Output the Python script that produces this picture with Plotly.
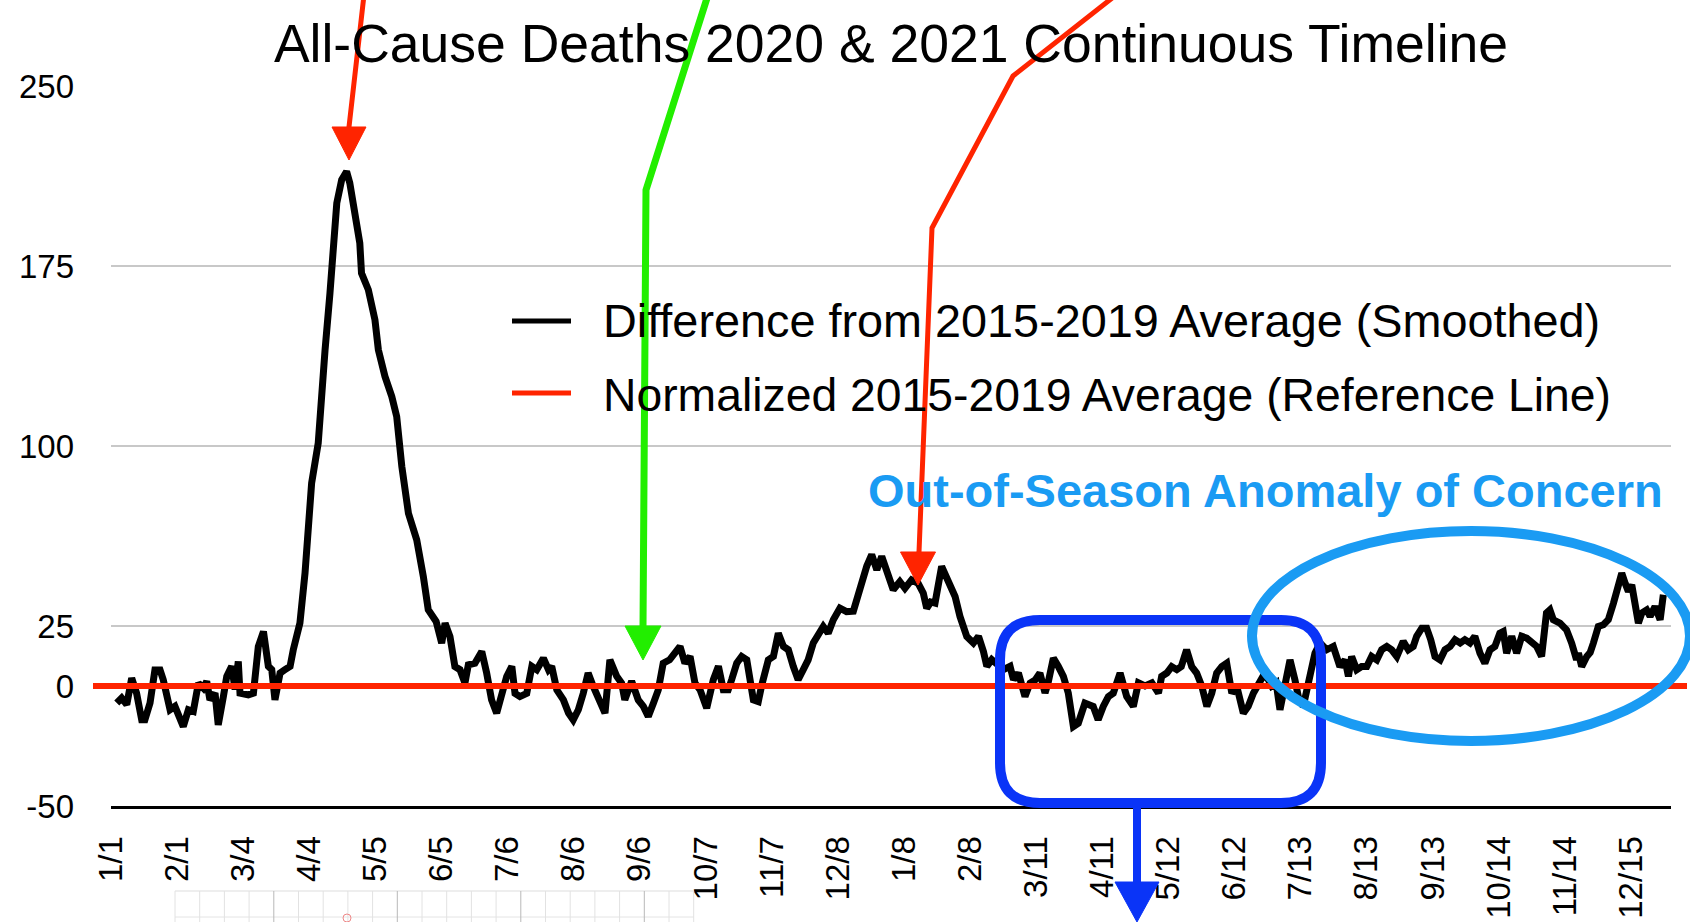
import plotly.graph_objects as go

# ---------------- data ----------------
# day index counted from 1 Jan 2020 (365-day years), value = difference from 2015-2019 average
days = [
    2.7, 5.0, 7.4, 9.7, 12.0, 14.4, 15.9, 18.3, 20.6, 23.0, 24.5, 27.7, 30.0, 31.6, 33.9, 36.3, 38.6,
    41.0, 43.3, 44.9, 46.4, 48.8, 50.3, 52.7, 54.3, 56.6, 58.2, 59.7, 60.5, 64.4, 66.8, 69.1, 71.5,
    73.8, 75.4, 76.9, 79.3, 81.6, 84.0, 85.5, 87.9,
    88.6, 91.0, 94.1, 97.2, 98.8, 100.4, 102.7, 104.3, 105.9, 108.2, 110.5, 112.0, 114.4, 116.7,
    117.5, 120.7, 123.8, 125.4, 128.5, 131.7, 134.0, 136.4, 139.5, 143.4, 146.5, 148.8,
    152.5, 155.1, 156.7, 159.0, 161.3, 163.7, 166.0, 167.6, 170.7, 173.9, 176.2, 178.5, 180.9,
    183.2, 185.6, 188.0, 189.5, 191.8, 195.0, 197.4, 199.7, 202.8, 205.2, 206.7, 209.1, 212.2,
    214.6, 216.8, 219.2, 221.5, 223.8, 226.2, 229.4, 231.7, 234.0, 237.2,
    239.5, 241.0, 244.2, 247.3, 249.7, 252.0, 254.4, 256.7, 259.0, 262.0, 266.9, 269.2, 271.6,
    273.9, 276.3, 279.4, 282.5, 284.9, 287.2, 289.5, 291.1, 293.5, 295.8, 298.2, 301.3, 303.6,
    305.2, 308.3, 310.7, 313.0, 315.4, 317.7, 320.0, 322.3, 324.7, 327.0, 329.4, 331.7, 334.1,
    336.4, 338.8, 341.9, 345.0, 348.2,
    350.5, 352.0, 354.5, 356.8, 359.2, 361.5, 363.8, 366.9, 370.0, 372.4, 375.5, 378.6, 381.0,
    382.6, 384.5, 386.5, 389.6, 392.0, 395.9, 398.2, 401.4, 404.5, 406.9, 409.2, 410.8, 413.1,
    416.2, 418.6, 421.7, 423.3, 425.6, 428.7, 431.1, 433.5, 435.7, 438.1, 439.5, 442.0, 444.3,
    446.7, 449.0, 451.4, 453.7, 456.8, 460.7,
    463.0, 465.4, 467.8, 470.1, 473.3, 476.4, 479.5, 481.9, 485.0, 488.2, 491.3, 492.8, 495.2,
    497.5, 499.9, 502.0, 504.5, 506.9, 509.2, 511.6, 514.0, 516.3, 518.6, 521.0, 523.3, 525.7,
    528.0, 531.1, 533.4, 535.8, 538.9, 541.2, 544.4, 546.5, 548.3, 550.6, 553.0, 555.3, 556.9,
    559.2, 561.6, 564.7, 567.1, 570.2, 573.3,
    576.4, 578.8, 580.4, 581.9, 584.3, 586.6, 589.0, 591.3, 593.7, 596.0, 598.4, 600.7, 603.1,
    606.1, 608.5, 610.8, 612.4, 614.8, 617.1, 619.0, 621.0, 623.4, 625.7, 628.1, 630.4, 632.8,
    635.0, 637.4, 639.7, 642.1, 644.4, 646.8, 649.1, 651.4, 653.0, 654.6, 657.0, 659.3, 661.7,
    664.0, 666.4, 668.7, 671.0, 673.3, 674.9, 676.5, 679.6, 682.7, 685.1, 687.4,
    688.3, 689.8, 692.2, 693.8, 695.3, 697.6, 700.0, 702.3, 704.7, 707.0, 708.6, 710.2, 711.7,
    713.3, 714.9, 716.4, 718.0, 720.3, 721.9, 724.2, 726.6, 728.1,
]
values = [
    -7.1, -5.0, -7.8, 3.3, -3.0, -14.1, -14.1, -7.1, 6.7, 6.7, 2.6, -9.9, -8.5, -12.7, -16.9, -9.9, -10.6,
    1.2, -0.9, 1.9, -5.8, -3.0, -16.2, -4.4, 4.0, 8.2, -1.5, 10.2, -3.0, -3.7, -3.0, 16.5, 22.7,
    8.2, 6.8, -5.8, 5.4, 6.8, 8.2, 15.1, 22.0,
    26.2, 47.0, 84.5, 101.2, 123.4, 140.0, 163.7, 181.7, 201.2, 210.9, 214.4, 209.6, 195.6, 184.5,
    172.0, 165.1, 152.6, 140.1, 129.0, 120.6, 112.3, 91.5, 72.0, 60.9, 45.6, 31.8,
    26.9, 17.9, 26.2, 20.6, 8.1, 6.8, 1.2, 8.8, 9.5, 14.4, 5.4, -5.8, -11.3,
    -3.1, 4.0, 8.2, -3.1, -4.4, -3.1, 8.2, 6.8, 11.6, 6.8, 8.2, -1.6, -5.8,
    -11.3, -14.1, -9.9, -3.1, 5.4, -0.2, -5.8, -11.3, 10.9, 4.0,
    1.2, -5.8, 2.0, -5.8, -8.5, -12.7, -7.2, -1.6, 9.5, 10.9, 16.5, 9.5, 12.3,
    1.2, -1.6, -9.2, 2.6, 8.2, -1.6, -1.6, 2.6, 9.5, 12.3, 10.9, -5.8, -6.5,
    0.3, 10.9, 12.3, 22.0, 16.5, 15.1, 8.2, 2.6, 6.8, 10.9, 17.9, 20.7, 24.8,
    22.0, 27.6, 32.4, 31.0, 31.2,
    38.0, 44.3, 50.0, 54.7, 48.4, 54.0, 47.0, 40.1, 43.5, 40.7, 44.2, 42.8, 38.7,
    32.4, 35.0, 34.5, 49.8, 45.6, 37.3, 29.0, 20.6, 17.9, 20.7, 14.4, 8.2, 11.0,
    8.2, 6.8, 8.2, 2.6, 5.4, -4.4, 1.2, 2.5, 5.4, -2.9, 1.2, 11.6, 8.2,
    4.0, -2.9, -16.9, -15.5, -7.1, -8.5,
    -14.1, -8.5, -4.4, -3.0, 5.4, -4.4, -8.5, 1.3, 0.0, 1.3, -3.0, 4.0, 5.4,
    8.1, 6.8, 8.1, 15.1, 8.1, 5.4, 0.0, -8.5, -3.0, 5.4, 8.1, 9.5, -3.0,
    0.0, -11.3, -8.5, -3.0, 2.6, 5.4, 0.0, 1.3, -9.9, 0.0, 10.9, 2.6, -4.4,
    -8.5, 2.6, 13.7, 17.9, 15.1, 16.5,
    8.1, 10.9, 4.0, 12.3, 6.8, 8.1, 8.1, 12.3, 10.9, 15.1, 16.5, 15.1, 12.3,
    18.6, 15.1, 16.5, 20.7, 24.1, 24.1, 19.3, 12.3, 10.9, 15.1, 16.5, 19.3, 17.9,
    19.3, 17.9, 20.7, 13.7, 9.5, 15.1, 16.5, 22.0, 22.7, 13.7, 20.7, 13.7, 20.7,
    20.0, 17.9, 16.5, 12.3, 30.4, 31.7, 27.6, 26.2, 23.4, 17.9, 10.9,
    13.7, 8.1, 12.3, 14.0, 17.9, 24.8, 25.5, 27.6, 34.5, 41.4, 47.0, 42.8, 39.4,
    42.1, 33.1, 26.2, 30.4, 31.7, 29.0, 33.1, 27.6, 38.0,
]
tick_days = [0, 31, 62, 93, 124, 155, 186, 217, 248, 279, 310, 341,
             372, 403, 434, 465, 496, 527, 558, 589, 620, 651, 682, 713]
tick_labels = ["1/1", "2/1", "3/4", "4/4", "5/5", "6/5", "7/6", "8/6", "9/6", "10/7", "11/7", "12/8",
               "1/8", "2/8", "3/11", "4/11", "5/12", "6/12", "7/13", "8/13", "9/13", "10/14", "11/14", "12/15"]
y_ticks = [250, 175, 100, 25, 0, -50]
y_tick_labels = ["250", "175", "100", "25", "0", "-50"]
x_range = [0, 731.7]
y_range = [-50, 250]
reference_value = 0

title_text = "All-Cause Deaths 2020 & 2021 Continuous Timeline"
series_name = "Difference from 2015-2019 Average (Smoothed)"
reference_name = "Normalized 2015-2019 Average (Reference Line)"
note_text = "Out-of-Season Anomaly of Concern"

# ---------------- layout geometry (pixels) ----------------
W, H = 1690, 922
L, R, T, B = 111, 1671, 86, 806
FONT = "Liberation Sans, Arial, Helvetica, sans-serif"
BLUE = "#0a34f7"
LIGHTBLUE = "#1a9bf3"
RED = "#ff2400"
GREEN = "#22ee00"


def px(x):
    return (x - L) / (R - L)


def py(y):
    return (B - y) / (B - T)


def pth(points, close=False):
    s = "M " + " L ".join(f"{px(x):.5f},{py(y):.5f}" for x, y in points)
    return s + (" Z" if close else "")


fig = go.Figure()
fig.add_trace(go.Scatter(x=days, y=values, mode="lines", name=series_name,
                         line=dict(color="black", width=7), showlegend=False,
                         hoverinfo="x+y"))
fig.add_trace(go.Scatter(x=x_range, y=[reference_value, reference_value], mode="lines",
                         name=reference_name, line=dict(color=RED, width=6),
                         showlegend=False))

shapes = []
ref_paper = (reference_value - y_range[0]) / (y_range[1] - y_range[0])
# reference line extends a little past the plot on both sides
shapes.append(dict(type="line", xref="paper", yref="paper", x0=px(93), x1=px(1687),
                   y0=ref_paper, y1=ref_paper, line=dict(color=RED, width=6), layer="above"))


def arrow(points, color, width, head_w, head_len):
    # polyline then filled triangular head pointing down at the last point
    tipx, tipy = points[-1]
    base_y = tipy - head_len
    shapes.append(dict(type="path", xref="paper", yref="paper",
                       path=pth(points[:-1] + [(tipx, base_y + 2)]),
                       line=dict(color=color, width=width), layer="above"))
    shapes.append(dict(type="path", xref="paper", yref="paper",
                       path=pth([(tipx - head_w / 2, base_y), (tipx + head_w / 2, base_y), (tipx, tipy)], True),
                       fillcolor=color, line=dict(color=color, width=1), layer="above"))


arrow([(364, -5), (349, 127), (349, 160)], RED, 5, 34, 33)
arrow([(708, -5), (646, 190), (643, 626), (643, 660)], GREEN, 7, 36, 34)
arrow([(1116, -5), (1013, 76), (932, 228), (919, 552), (918, 585)], RED, 5, 35, 33)
arrow([(1137, 805), (1137, 922)], BLUE, 8, 44, 40)

# rounded blue rectangle
x0, x1, y0, y1, r = 1000, 1321, 620, 803, 40
rr = (f"M {px(x0 + r):.5f},{py(y0):.5f} L {px(x1 - r):.5f},{py(y0):.5f} "
      f"Q {px(x1):.5f},{py(y0):.5f} {px(x1):.5f},{py(y0 + r):.5f} "
      f"L {px(x1):.5f},{py(y1 - r):.5f} Q {px(x1):.5f},{py(y1):.5f} {px(x1 - r):.5f},{py(y1):.5f} "
      f"L {px(x0 + r):.5f},{py(y1):.5f} Q {px(x0):.5f},{py(y1):.5f} {px(x0):.5f},{py(y1 - r):.5f} "
      f"L {px(x0):.5f},{py(y0 + r):.5f} Q {px(x0):.5f},{py(y0):.5f} {px(x0 + r):.5f},{py(y0):.5f} Z")
shapes.append(dict(type="path", xref="paper", yref="paper", path=rr,
                   line=dict(color=BLUE, width=10), layer="above"))

# light blue ellipse
shapes.append(dict(type="circle", xref="paper", yref="paper",
                   x0=px(1252), x1=px(1690), y0=py(741), y1=py(531),
                   line=dict(color=LIGHTBLUE, width=10), layer="above"))

# manual legend samples
shapes.append(dict(type="line", xref="paper", yref="paper", x0=px(512), x1=px(571),
                   y0=py(321), y1=py(321), line=dict(color="black", width=5)))
shapes.append(dict(type="line", xref="paper", yref="paper", x0=px(512), x1=px(571),
                   y0=py(393), y1=py(393), line=dict(color=RED, width=5)))

# faint grid fragment at the bottom-left
gx0, gx1, gy0, gy1 = 175, 694, 891, 922
shapes.append(dict(type="line", xref="paper", yref="paper", x0=px(gx0), x1=px(gx1),
                   y0=py(gy0), y1=py(gy0), line=dict(color="#dddddd", width=1)))
shapes.append(dict(type="line", xref="paper", yref="paper", x0=px(gx0), x1=px(gx1),
                   y0=py(917), y1=py(917), line=dict(color="#e4e4e4", width=1)))
k = 0
gx = gx0
while gx <= gx1 + 0.5:
    shapes.append(dict(type="line", xref="paper", yref="paper", x0=px(gx), x1=px(gx),
                       y0=py(gy0), y1=py(gy1),
                       line=dict(color="#b8b8b8" if k % 5 == 4 else "#e2e2e2", width=1)))
    gx += 24.7
    k += 1
shapes.append(dict(type="circle", xref="paper", yref="paper", x0=px(343), x1=px(351),
                   y0=py(922), y1=py(914), line=dict(color="#e88", width=1)))

annotations = [
    dict(text=series_name, x=px(601), y=py(321), xref="paper", yref="paper",
         xanchor="left", yanchor="middle", showarrow=False,
         font=dict(family=FONT, size=46.8, color="black")),
    dict(text=reference_name, x=px(601), y=py(395), xref="paper", yref="paper",
         xanchor="left", yanchor="middle", showarrow=False,
         font=dict(family=FONT, size=46.3, color="black")),
    dict(text=note_text, x=px(1265), y=py(490), xref="paper", yref="paper",
         xanchor="center", yanchor="middle", showarrow=False,
         font=dict(family=FONT, size=47, color=LIGHTBLUE, weight="bold")),
]

fig.update_layout(
    width=W, height=H,
    margin=dict(l=L, r=W - R, t=T, b=H - B, pad=0, autoexpand=False),
    paper_bgcolor="white", plot_bgcolor="white",
    title=dict(text=title_text, x=0.5, xref="paper", y=1 - 43 / H, yref="container",
               xanchor="center", yanchor="middle",
               font=dict(family=FONT, size=53.5, color="black")),
    font=dict(family=FONT, color="black"),
    showlegend=False,
    shapes=shapes,
    annotations=annotations,
    xaxis=dict(range=x_range, tickmode="array", tickvals=tick_days, ticktext=tick_labels,
               tickangle=-90, tickfont=dict(size=33, family=FONT, color="black"),
               showgrid=False, zeroline=False, showline=True, linecolor="black", linewidth=3,
               ticks="", ticklabelstandoff=14, fixedrange=True, automargin=False),
    yaxis=dict(range=y_range, tickmode="array", tickvals=y_ticks, ticktext=y_tick_labels,
               tickfont=dict(size=33, family=FONT, color="black"),
               showgrid=True, gridcolor="#c8c8c8", gridwidth=1.5, zeroline=False,
               showline=False, ticks="", ticklabelstandoff=36, fixedrange=True, automargin=False),
)

fig.write_html("out.html", config={"displayModeBar": False},
               post_script="document.body.style.margin='0';document.body.style.overflow='hidden';")
